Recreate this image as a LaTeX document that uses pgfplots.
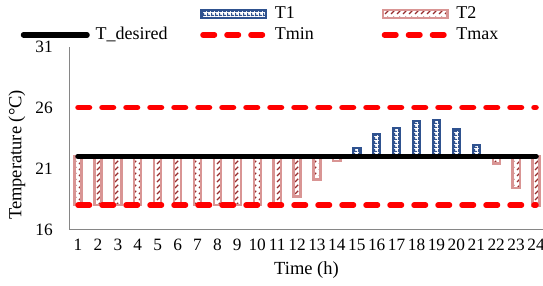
\documentclass[border=0pt]{standalone}
\usepackage{pgfplots}
\pgfplotsset{compat=1.18}
\usepackage{pgfplotstable}
\usepackage{fontspec}
\setmainfont{Liberation Serif}
\usetikzlibrary{patterns}
\definecolor{tonebd}{RGB}{47,82,143}
\definecolor{ttwobd}{RGB}{217,149,148}
\definecolor{ttwopat}{RGB}{150,45,45}
\definecolor{axgray}{RGB}{134,134,134}
\definecolor{tred}{RGB}{255,0,0}
\pgfdeclarepatternformonly{diagdash}{\pgfqpoint{-1pt}{-1pt}}{\pgfqpoint{7pt}{7pt}}{\pgfqpoint{6pt}{6pt}}{%
  \pgfsetlinewidth{1.2pt}%
  \pgfpathmoveto{\pgfqpoint{1pt}{1pt}}%
  \pgfpathlineto{\pgfqpoint{4.2pt}{4.2pt}}%
  \pgfusepath{stroke}%
}
\pgfdeclarepatternformonly{smallgrid}{\pgfqpoint{0pt}{0pt}}{\pgfqpoint{3.5pt}{3.5pt}}{\pgfqpoint{3.5pt}{3.5pt}}{%
  \pgfsetlinewidth{1.3pt}%
  \pgfpathmoveto{\pgfqpoint{0pt}{0.65pt}}%
  \pgfpathlineto{\pgfqpoint{3.5pt}{0.65pt}}%
  \pgfpathmoveto{\pgfqpoint{0.65pt}{0pt}}%
  \pgfpathlineto{\pgfqpoint{0.65pt}{3.5pt}}%
  \pgfusepath{stroke}%
}
\pgfplotsset{
  barleg/.style={legend image code/.code={\draw[##1,/tikz/.cd] (1.15pt,-4.2pt) rectangle (65.85pt,4.2pt); \path (0pt,0pt) (69pt,0pt);}},
  lineleg/.style={legend image code/.code={\draw[##1] (2.75pt,0pt) -- (66.25pt,0pt); \path (0pt,0pt) (69pt,0pt);}},
}
\pgfplotstableread{
h T1 T2 Td Tmin Tmax
1 nan 18.0 22 18 26
2 nan 18.0 22 18 26
3 nan 18.0 22 18 26
4 nan 18.0 22 18 26
5 nan 18.0 22 18 26
6 nan 18.0 22 18 26
7 nan 18.0 22 18 26
8 nan 18.0 22 18 26
9 nan 18.0 22 18 26
10 nan 18.0 22 18 26
11 nan 18.1 22 18 26
12 nan 18.7 22 18 26
13 nan 20.1 22 18 26
14 nan 21.6 22 18 26
15 22.7 nan 22 18 26
16 23.8 nan 22 18 26
17 24.3 nan 22 18 26
18 24.9 nan 22 18 26
19 25.0 nan 22 18 26
20 24.2 nan 22 18 26
21 22.9 nan 22 18 26
22 nan 21.4 22 18 26
23 nan 19.4 22 18 26
24 nan 17.9 22 18 26
}\data
\begin{document}
\fontsize{17}{20}\selectfont
\begin{tikzpicture}[font=\fontsize{17}{20}\selectfont]
\useasboundingbox (-70pt,-55.5pt) rectangle (473pt,229.5pt);
\begin{axis}[
  at={(0,0)}, anchor=south west,
  scale only axis, width=473pt, height=183pt,
  xmin=0.598, xmax=24.35,
  ymin=-6, ymax=9,
  y filter/.expression={y-22},
  unbounded coords=discard,
  axis lines*=left,
  axis line style={axgray, line width=1pt},
  major tick length=0pt,
  xtick={1,...,24},
  ytick={-6,-1,4,9},
  yticklabels={16,21,26,31},
  /pgf/number format/assume math mode=true,
  xticklabel style={inner sep=0pt, anchor=north, yshift=-9.25pt, font=\fontsize{17.3}{20}\selectfont},
  yticklabel style={inner sep=0pt, anchor=east, xshift=-17pt, font=\fontsize{17.3}{20}\selectfont},
  xlabel={Time (h)},
  ylabel={Temperature (°C)},
  xlabel style={at={(axis description cs:0.5,0)}, anchor=center, yshift=-41pt, inner sep=0pt, font=\fontsize{18.5}{21}\selectfont},
  ylabel style={at={(axis description cs:-0.112,0.407)}, anchor=center, inner sep=0pt, font=\fontsize{18.5}{21}\selectfont},
  clip=false,
  legend columns=3,
  legend cell align=left,
  legend style={at={(axis description cs:-0.1099,1.2355)}, anchor=north west,
    draw=none, fill=none, inner sep=0pt, outer sep=0pt,
    font=\fontsize{18}{21}\selectfont,
    nodes={inner sep=2pt, text height=13pt, text depth=4pt},
    /tikz/column sep=1pt,
    /tikz/column 2/.style={column sep=28pt},
    /tikz/column 4/.style={column sep=63pt}},
]
\addlegendimage{empty legend}\addlegendentry{}
\addplot[ybar, bar shift=0pt, bar width=7.1pt, draw=tonebd, line width=2.3pt,
  pattern=smallgrid, pattern color=tonebd, barleg]
  table[x=h, y=T1] {\data};
\addlegendentry{T1}
\addplot[ybar, bar shift=0pt, bar width=7.1pt, draw=ttwobd, line width=2.3pt,
  pattern=diagdash, pattern color=ttwopat, barleg]
  table[x=h, y=T2] {\data};
\addlegendentry{T2}
\addplot[black, line width=5.5pt, line cap=round, no markers, lineleg]
  table[x=h, y=Td] {\data};
\addlegendentry{T\_desired}
\addplot[tred, line width=5.5pt, line cap=round, dash pattern=on 11.5pt off 12.5pt, no markers, lineleg]
  table[x=h, y=Tmin] {\data};
\addlegendentry{Tmin}
\addplot[tred, line width=5.5pt, line cap=round, dash pattern=on 11.5pt off 12.5pt, no markers, lineleg]
  table[x=h, y=Tmax] {\data};
\addlegendentry{Tmax}
\end{axis}
\end{tikzpicture}
\end{document}
